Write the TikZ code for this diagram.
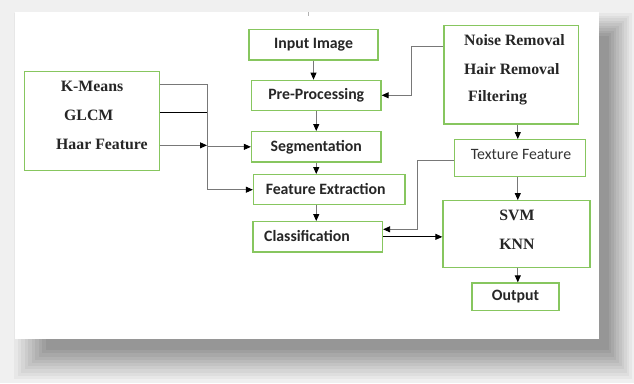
\documentclass[tikz,border=0pt]{standalone}
\usepackage{fontspec}
\setmainfont{Liberation Serif}
\newfontfamily\calfont{Carlito}
\usetikzlibrary{arrows.meta,calc}
\definecolor{bgreen}{RGB}{135,198,95}
\definecolor{lgray}{RGB}{120,120,120}
\tikzset{
  box/.style={draw=bgreen, line width=1.3pt, fill=white, inner sep=0pt},
  stxt/.style={font=\calfont\bfseries\fontsize{15.8}{18}\selectfont, text=black!85},
  ttxt/.style={font=\calfont\fontsize{15.8}{18}\selectfont, text=black!80, inner sep=0pt},
  rtxt/.style={font=\bfseries\fontsize{15.8}{18}\selectfont, text=black!85, inner sep=0pt},
  tip/.style={-{Triangle[length=7pt,width=6pt,color=black]}},
  con/.style={draw=lgray, line width=0.9pt},
  conk/.style={draw=black, line width=0.9pt},
}
\begin{document}
\begin{tikzpicture}[x=1pt,y=-1pt]
\useasboundingbox (0,0) rectangle (634,383);
% background and shadow
\fill[black!6] (0,0) rectangle (634,383);
\foreach \i in {0,...,9}{
  \pgfmathsetmacro{\sh}{6+3.5*(\i+1)}
  \fill[black!\sh] ({14+3.5*\i},{13+2.5*\i}) rectangle ({632-2.6*\i},{379-3.2*\i});
}
\fill[white] (14.6,12) rectangle (598.5,339);
\draw[gray!60, line width=0.5pt] (308.5,12) -- (308.5,16);

% central column
\node[box, stxt, minimum width=129pt, minimum height=30.5pt] (inp) at (313.5,44.75) {Input Image};
\node[box, stxt, minimum width=129.5pt, minimum height=30pt] (pre) at (316.25,95.3) {Pre-Processing};
\node[box, stxt, minimum width=129.5pt, minimum height=30.3pt] (seg) at (316.25,146.85) {Segmentation};
\node[box, minimum width=151.5pt, minimum height=30pt] (fe) at (329.25,189.7) {};
\node[stxt, inner sep=0pt] (fet) at (325.7,189.2) {Feature Extraction};
\node[box, minimum width=129.5pt, minimum height=30.3pt] (cls) at (317.75,236.85) {};
\node[stxt, inner sep=0pt] (clst) at (307,235.7) {Classification};

% left box
\node[box, minimum width=134.6pt, minimum height=98.6pt] (km) at (92,121) {};
\node[rtxt, anchor=west] (kmt) at (60.7,86) {K-Means};
\node[rtxt, anchor=west] (glt) at (64,115) {GLCM};
\node[rtxt, anchor=west] (hat) at (56,144) {Haar Feature};

% right boxes
\node[box, minimum width=134.6pt, minimum height=98.3pt] (nr) at (511.3,74.85) {};
\node[rtxt, anchor=west] (nrt) at (464,40) {Noise Removal};
\node[rtxt, anchor=west] (hrt) at (464,69) {Hair Removal};
\node[rtxt, anchor=west] (flt) at (468,97.7) {Filtering};
\node[box, minimum width=131pt, minimum height=37pt] (tf) at (520,158.2) {};
\node[ttxt] (tft) at (521,154.7) {Texture Feature};
\node[box, minimum width=147pt, minimum height=67pt] (svm) at (516.5,234.2) {};
\node[rtxt] (svmt) at (517,215) {SVM};
\node[rtxt] (knnt) at (517,244) {KNN};
\node[box, stxt, minimum width=87pt, minimum height=27.3pt] (out) at (515.5,296.65) {Output};

% helper coordinates
\coordinate (jx) at (207,0);
\coordinate (nx) at (411.6,0);
\coordinate (tx) at (417.7,0);
\coordinate (rx) at (517.8,0);
\coordinate (kmA) at ($(km.north east)+(0,13.6)$);
\coordinate (kmB) at ($(km.north east)+(0,41.6)$);
\coordinate (kmC) at ($(km.north east)+(0,74.3)$);
\coordinate (nrA) at ($(nr.north west)+(0,21.3)$);
\coordinate (tfA) at ($(tf.north west)+(0,21)$);

% vertical chain
\draw[con, tip] (inp.south) -- (inp.south |- pre.north);
\draw[con, tip] (pre.south) -- (pre.south |- seg.north);
\draw[con, tip] (seg.south) -- (seg.south |- fe.north);
\draw[con, tip] (seg.south |- fe.south) -- (seg.south |- cls.north);

% left connectors
\draw[con] (kmA) -- (jx |- kmA) -- (jx |- fe.west);
\draw[con, tip] (jx |- fe.west) -- (fe.west);
\draw[conk] (kmB) -- (jx |- kmB);
\draw[con, tip] (kmC) -- (jx |- kmC);
\draw[con, tip] (jx |- seg.west) -- (seg.west);

% right connectors
\draw[con, tip] (nrA) -- (nx |- nrA) -- (nx |- pre.east) -- (pre.east);
\draw[con, tip] (tfA) -- (tx |- tfA) -- (tx |- 0,229.3) -- (cls.east |- 0,229.3);
\draw[conk, tip] (cls.east) -- (cls.east -| svm.west);
\draw[con, tip] (rx |- nr.south) -- (rx |- tf.north);
\draw[con, tip] (rx |- tf.south) -- (rx |- svm.north);
\draw[con, tip] (rx |- svm.south) -- (rx |- out.north);
\end{tikzpicture}
\end{document}
